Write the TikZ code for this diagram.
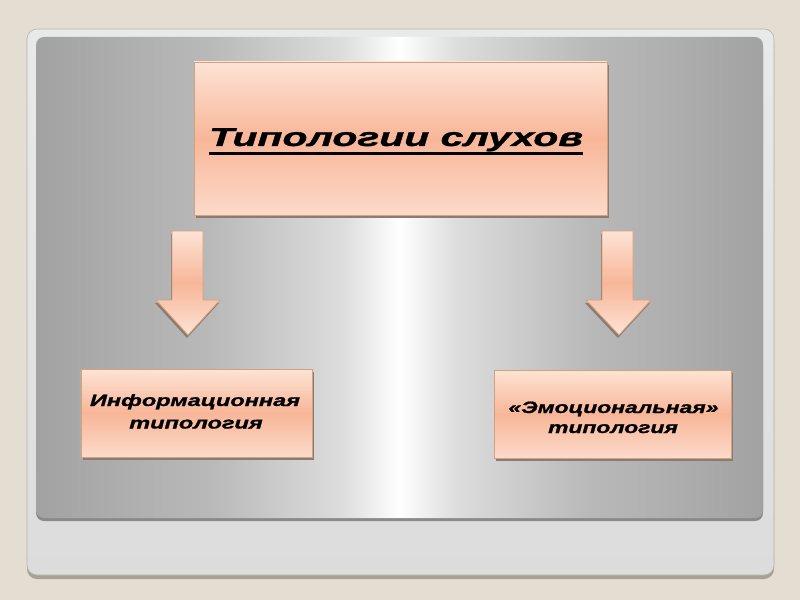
\documentclass[tikz,border=0pt]{standalone}
\usepackage{fontspec}
\usepackage{graphicx}
\setmainfont{Liberation Sans}
\newfontfamily\heavyfont{Liberation Sans}[FakeBold=1]
\newcommand\stretchtxt[2]{\scalebox{#1}[1]{#2}}
\definecolor{pagebg}{HTML}{E4DDD2}
\definecolor{outerfill}{HTML}{DCDCDC}
\definecolor{outertop}{HTML}{E8EAEA}
\definecolor{outerline}{HTML}{B4B4AC}
\definecolor{outershadow}{HTML}{A7A298}
\definecolor{innershadow}{HTML}{8A8A8A}
\definecolor{pgA}{HTML}{A2A2A2}
\definecolor{pgB}{HTML}{B9B9B9}
\definecolor{pgC}{HTML}{DCDCDC}
\definecolor{boxtop}{HTML}{FDE3D5}
\definecolor{boxmid}{HTML}{F8B698}
\definecolor{boxbot}{HTML}{FCDACA}
\definecolor{boxline}{HTML}{D2A27E}
\definecolor{boxshadow}{HTML}{8A7C70}
\pgfdeclarehorizontalshading{panelshade}{100bp}{color(0bp)=(pgA); color(25bp)=(pgA); color(37bp)=(pgB); color(46bp)=(pgC); color(50bp)=(white); color(54bp)=(pgC); color(63bp)=(pgB); color(75bp)=(pgA); color(100bp)=(pgA)}
\tikzset{
  box/.style={rectangle, draw=boxline, line width=0.8bp,
    top color=boxtop, bottom color=boxbot, middle color=boxmid,
    preaction={fill=boxshadow, transform canvas={xshift=2bp, yshift=-3bp}},
    inner sep=0pt},
  boxtext/.style={inner sep=0pt, anchor=base, font=\heavyfont\fontsize{16.5}{20}\selectfont\bfseries\itshape},
  titletxt/.style={inner sep=0pt, anchor=base, font=\heavyfont\fontsize{26}{30}\selectfont\bfseries\itshape},
  downarrow/.style={draw=boxline, line width=0.8bp,
    top color=boxtop, bottom color=boxtop, middle color=boxmid,
    preaction={fill=boxshadow, transform canvas={xshift=-1bp, yshift=-3bp}}},
}
\begin{document}
\begin{tikzpicture}[x=1bp, y=-1bp]
\useasboundingbox (0,0) rectangle (800,600);
\fill[pagebg] (0,0) rectangle (800,600);
% outer panel
\fill[outershadow, rounded corners=10bp] (27,33) rectangle (774,579);
\shade[top color=outertop, bottom color=outerfill, draw=outerline, line width=0.6bp, rounded corners=10bp] (27,29) rectangle (774,575);
% inner panel
\fill[innershadow, rounded corners=8bp] (36,40) rectangle (763,521);
\shade[shading=panelshade, rounded corners=8bp] (36,37) rectangle (763,518);
% boxes
\node[box, minimum width=413bp, minimum height=153bp] (title) at (400.5,138.5) {};
\node[titletxt] (titletext) at (396,146) {\stretchtxt{1.58}{Типологии слухов}};
\draw[line width=3bp] ([yshift=-7.5bp]titletext.base west) -- ([yshift=-7.5bp]titletext.base east);
\node[box, minimum width=231bp, minimum height=88bp] (info) at (196.5,413) {};
\node[boxtext] (info1) at (195,406) {\stretchtxt{1.43}{Информационная}};
\node[boxtext] (info2) at (196,428.5) {\stretchtxt{1.43}{типология}};
\node[box, minimum width=237bp, minimum height=88bp] (emo) at (612.5,414) {};
\node[boxtext] (emo1) at (613.5,413) {\stretchtxt{1.39}{«Эмоциональная»}};
\node[boxtext] (emo2) at (613,433) {\stretchtxt{1.39}{типология}};
% arrows
\draw[downarrow] (172,231) -- (203,231) -- (203,300) -- (220,300) -- (188,335) -- (156,300) -- (172,300) -- cycle;
\draw[downarrow] (602,231) -- (633,231) -- (633,300) -- (651,300) -- (619,335) -- (586,300) -- (602,300) -- cycle;
\end{tikzpicture}
\end{document}
